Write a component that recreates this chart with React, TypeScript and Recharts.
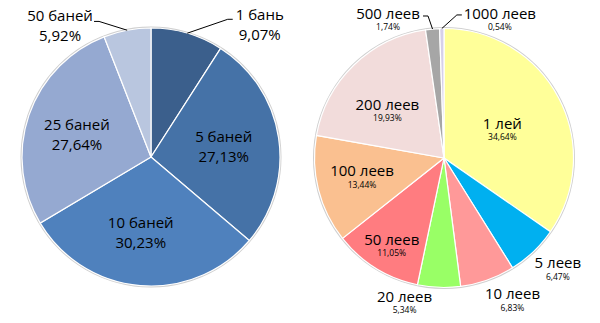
import { PieChart, Pie, Cell } from 'recharts';

// Left pie: bani (coins)
const leftNames = ['1 бань', '5 баней', '10 баней', '25 баней', '50 баней'];
const leftValues = [9.07, 27.13, 30.23, 27.64, 5.92];
const leftColors = ['#3b5f8c', '#4572a7', '#4f81bd', '#95a9d1', '#b9c6df'];

// Right pie: lei (banknotes)
const rightNames = ['1 лей', '5 леев', '10 леев', '20 леев', '50 леев', '100 леев', '200 леев', '500 леев', '1000 леев'];
const rightValues = [34.64, 6.47, 6.83, 5.34, 11.05, 13.44, 19.93, 1.74, 0.54];
const rightColors = ['#ffff99', '#00b0f0', '#ff9999', '#99ff66', '#ff7c80', '#fac090', '#f2dcdb', '#a6a6a6', '#d6d0ea'];

// label placement: radius factor, clockwise angle shift (deg), optional leader line end offset
type Place = { r: number; shift: number; line?: [number, number] };
const leftPlace: Place[] = [
  { r: 1.33, shift: 23, line: [-27, -5] },
  { r: 0.57, shift: 0 },
  { r: 0.59, shift: 3 },
  { r: 0.6, shift: -2 },
  { r: 1.24, shift: -24, line: [34, -4] },
];
const rightPlace: Place[] = [
  { r: 0.5, shift: 2 },
  { r: 1.23, shift: -2 },
  { r: 1.22, shift: -6 },
  { r: 1.16, shift: 13 },
  { r: 0.79, shift: -1 },
  { r: 0.65, shift: 1 },
  { r: 0.57, shift: -6 },
  { r: 1.15, shift: -17, line: [35, -4] },
  { r: 1.15, shift: 23, line: [-38, -5] },
];

const leftData = leftNames.map((name, i) => ({ name, value: leftValues[i] }));
const rightData = rightNames.map((name, i) => ({ name, value: rightValues[i] }));

const RADIAN = Math.PI / 180;
const FONT = '"Open Sans", sans-serif';
const fmt = (v: number) => v.toFixed(2).replace('.', ',');

const polar = (cx: number, cy: number, r: number, angle: number) => ({
  x: cx + r * Math.cos(-angle * RADIAN),
  y: cy + r * Math.sin(-angle * RADIAN),
});

function makeLabel(places: Place[], values: number[], big: boolean) {
  return (props: any) => {
    const { cx, cy, midAngle, outerRadius, index, name } = props;
    const p = places[index];
    const c = polar(cx, cy, outerRadius * p.r, midAngle - p.shift);
    const gap = big ? 10 : 7;
    let line = null;
    if (p.line) {
      const e = polar(cx, cy, outerRadius, midAngle);
      const ex = c.x + p.line[0];
      const ey = c.y + p.line[1];
      const dir = p.line[0] > 0 ? 5 : -5;
      line = (
        <polyline
          points={`${ex},${ey} ${ex + dir},${ey} ${e.x},${e.y}`}
          fill="none"
          stroke="#000"
          strokeWidth={1}
        />
      );
    }
    return (
      <g>
        {line}
        <text x={c.x} y={c.y - gap} textAnchor="middle" dominantBaseline="central" fill="#000" fontFamily={FONT} fontSize={15}>
          {name}
        </text>
        <text
          x={c.x}
          y={c.y + gap}
          textAnchor="middle"
          dominantBaseline="central"
          fill="#000"
          fontFamily={FONT}
          fontSize={big ? 15 : 8.5}
        >
          {fmt(values[index])}%
        </text>
      </g>
    );
  };
}

export default function App() {
  return (
    <div style={{ position: 'absolute', left: 0, top: 0, width: 600, height: 323, background: '#fff' }}>
      <PieChart width={600} height={323} margin={{ top: 0, right: 0, bottom: 0, left: 0 }}>
        {/* soft grey rims behind both pies */}
        <Pie data={[{ v: 1 }]} dataKey="v" cx={151} cy={157} outerRadius={130.5} fill="#cfcfcf" stroke="none" isAnimationActive={false} />
        <Pie data={[{ v: 1 }]} dataKey="v" cx={444} cy={158} outerRadius={131} fill="#cfcfcf" stroke="none" isAnimationActive={false} />
        <Pie
          data={leftData}
          dataKey="value"
          nameKey="name"
          cx={151}
          cy={157}
          outerRadius={129}
          startAngle={90}
          endAngle={-270}
          stroke="#fff"
          strokeWidth={1.2}
          label={makeLabel(leftPlace, leftValues, true)}
          labelLine={false}
          isAnimationActive={false}
        >
          {leftData.map((d, i) => (
            <Cell key={d.name} fill={leftColors[i]} />
          ))}
        </Pie>
        <Pie
          data={rightData}
          dataKey="value"
          nameKey="name"
          cx={444}
          cy={158}
          outerRadius={129.5}
          startAngle={90}
          endAngle={-270}
          stroke="#fff"
          strokeWidth={1.2}
          label={makeLabel(rightPlace, rightValues, false)}
          labelLine={false}
          isAnimationActive={false}
        >
          {rightData.map((d, i) => (
            <Cell key={d.name} fill={rightColors[i]} />
          ))}
        </Pie>
      </PieChart>
    </div>
  );
}
